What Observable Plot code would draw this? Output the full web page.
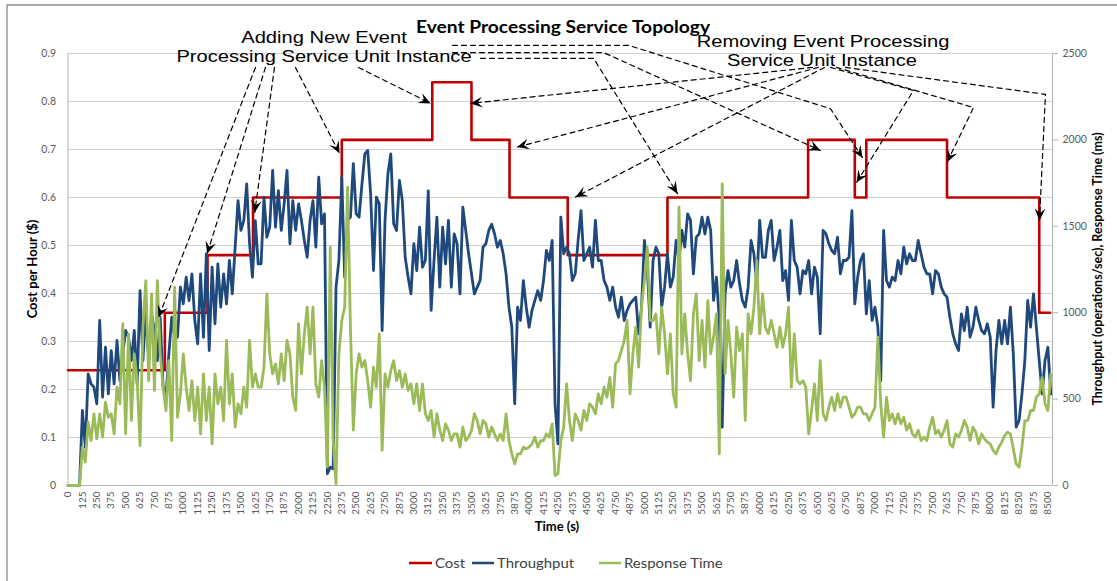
<!DOCTYPE html>
<html><head><meta charset="utf-8">
<script src="https://cdn.jsdelivr.net/npm/d3@7"></script>
<script src="https://cdn.jsdelivr.net/npm/@observablehq/plot@0.6"></script>
<style>
html,body{margin:0;padding:0;background:#fff;}
#wrap{position:relative;width:1117px;height:581px;overflow:hidden;background:#fff;}
#wrap svg{position:absolute;left:0;top:0;}
</style></head><body><div id="wrap"></div>
<script>
// ---------------- data ----------------
const timeStep = 25; // seconds between samples (sample i is at i*timeStep)
const throughput = [
0,0,0,0,0,434,222,646,588,569,473,955,511,800,530,781,588,839,607,762,
897,858,723,897,588,1128,723,1013,723,993,897,723,974,569,511,762,974,858,858,1148,
1051,1206,1070,1225,955,820,1225,858,1341,781,1264,936,1283,1032,1225,1051,1302,1109,1379,1649,
1476,1533,1746,1399,1206,1533,1283,1283,1669,1437,1495,1823,1495,1707,1476,1630,1823,1399,1649,1476,
1630,1534,1418,1321,1534,1649,1379,1784,1514,1572,68,106,96,1148,1302,1784,1206,1534,1553,1863,
1572,1553,1746,1919,1939,1688,1244,1669,1630,897,1534,1804,1919,1514,1476,1765,1649,1321,1206,1109,
1399,1244,1495,1263,1302,1705,1013,1302,1553,1148,1495,1283,1534,1148,1456,1399,1109,1611,1476,1341,
1225,1109,1148,1186,1379,1399,1476,1512,1457,1379,1418,1341,1225,1032,916,473,1032,955,1186,1032,
916,1013,1071,1128,1071,1186,1360,1302,1418,473,241,1553,1341,1379,1341,1186,1225,1418,1591,1302,
1341,1379,1264,1534,1302,1302,1186,1148,1071,1148,1032,974,1090,955,1013,1051,1071,1090,878,1032,
1418,1264,916,1302,1379,1341,1032,1148,1341,1148,1206,1418,1302,1476,1379,1572,1534,1225,1437,1456,
1553,1456,1553,1476,1071,1206,955,337,1109,1244,1148,1186,1302,1167,1071,1032,1148,1418,1341,1167,
1534,1321,1321,1476,1534,1302,1379,1476,1186,1244,1071,1534,1302,1264,1109,1244,1225,1302,1109,1264,
1206,878,1476,1456,1399,1360,1341,1437,1225,1302,1302,1321,1591,1051,1206,1302,1341,993,1186,955,
1032,916,607,1476,1186,1148,1206,1186,1302,1225,1379,1283,1341,1302,1302,1418,1341,1264,1225,1225,
1109,1244,1225,1148,1109,1090,974,878,820,781,993,897,1032,858,916,1032,955,897,878,936,
858,453,781,955,820,955,820,1032,762,338,376,530,723,1071,916,1109,916,723,530,723,
800,530];
const responseTime = [
0,0,0,0,0,222,135,367,260,415,270,415,280,482,395,415,299,569,473,936,
299,878,376,762,607,231,916,1186,607,1109,550,1186,762,569,434,723,260,1148,395,530,
762,569,434,607,376,569,299,646,376,569,241,646,473,569,376,839,473,646,338,473,
415,569,453,839,569,646,569,569,685,1109,762,646,704,588,762,607,839,762,511,434,
936,646,878,1032,762,1032,588,511,723,569,106,1379,260,10,762,955,1032,1726,916,320,
646,762,685,723,607,453,685,569,878,203,646,569,665,723,607,665,569,646,550,588,
473,588,434,588,415,376,434,280,415,320,260,357,320,260,299,299,222,338,260,280,
318,415,376,299,376,357,280,338,299,260,299,260,415,260,183,125,183,183,222,212,
222,241,280,222,260,260,299,280,357,58,68,260,338,588,376,260,415,376,320,434,
376,473,453,415,530,473,569,511,626,453,704,723,781,839,955,530,762,916,685,1032,
1186,1379,955,955,993,762,1032,878,646,878,530,453,1611,762,993,762,607,993,1109,723,
955,685,1070,762,859,993,183,1746,646,955,762,511,916,781,878,376,993,878,1032,1302,
878,1109,916,878,955,878,800,916,800,878,1032,569,878,607,588,607,569,299,434,588,
376,723,415,376,453,511,434,530,453,511,511,453,395,415,453,453,415,415,376,415,
453,858,473,280,511,376,415,357,415,357,395,320,357,299,280,320,260,280,260,338,
395,299,320,280,320,376,241,222,299,280,320,376,338,260,338,309,241,299,270,251,
241,203,183,222,251,289,309,299,212,125,106,222,376,376,434,434,511,530,626,473,
434,646];
const costTimes  = [0, 840, 1210, 1605, 2375, 3160, 3500, 3830, 4335, 5200, 6420, 6825, 6925, 7625, 8425, 8520];
const costValues = [0.24, 0.36, 0.48, 0.6, 0.72, 0.84, 0.72, 0.6, 0.48, 0.6, 0.72, 0.6, 0.72, 0.6, 0.36, 0.36];
const leftTicks  = [0, 0.1, 0.2, 0.3, 0.4, 0.5, 0.6, 0.7, 0.8, 0.9];
const rightTicks = [0, 500, 1000, 1500, 2000, 2500];
const xTicks = d3.range(0, 8501, 125);
const seriesNames = ["Cost", "Throughput", "Response Time"];
// annotation arrows: polylines in (time, cost) units, arrow at the last point
const addingArrows = [
  [[1626,0.871],[785,0.350]],
  [[1713,0.871],[1207,0.483]],
  [[1791,0.871],[1620,0.569]],
  [[1973,0.871],[2355,0.692]],
  [[2520,0.871],[3145,0.796]],
  [[3335,0.917],[4862,0.917],[6614,0.785],[6892,0.683]],
  [[3335,0.902],[4645,0.902],[6527,0.698]],
  [[3578,0.890],[4559,0.890],[5287,0.608]]
];
const removingArrows = [
  [[6458,0.871],[3491,0.796]],
  [[6510,0.871],[3896,0.705]],
  [[6562,0.871],[4402,0.601]],
  [[6614,0.871],[7334,0.823],[6840,0.631]],
  [[6666,0.871],[7855,0.7875],[7627,0.674]],
  [[6744,0.871],[8479,0.815],[8427,0.552]]
];

// ---------------- build ----------------
const colors = {Cost: "#c00000", Throughput: "#1f497d", "Response Time": "#9bbb59"};
const k = 0.9 / 2500; // right axis units -> left axis units
const W = 1117, H = 540;
const mL = 67.5, mR = 65, mT = 53, mB = 55;
const xDomain = [0, 8540], yDomain = [0, 0.9];

const costData = costTimes.map((t, i) => ({t, c: costValues[i]}));
const tpData = throughput.map((v, i) => ({t: i * timeStep, c: v * k}));
const rtData = responseTime.map((v, i) => ({t: i * timeStep, c: v * k}));

const arrows = [...addingArrows, ...removingArrows];
const arrowPts = arrows.flatMap((p, id) => p.map(([t, c]) => ({id, t, c})));
const xs = Plot.scale({x: {domain: xDomain, range: [mL, W - mR]}});
const ys = Plot.scale({y: {domain: yDomain, range: [H - mB, mT]}});
const heads = arrows.map(p => {
  const [t1, c1] = p[p.length - 2], [t2, c2] = p[p.length - 1];
  const dx = xs.apply(t2) - xs.apply(t1), dy = ys.apply(c2) - ys.apply(c1);
  return {t: t2, c: c2, angle: Math.atan2(dx, -dy) * 180 / Math.PI};
});
const stealth = {
  draw(ctx, size) {
    const R = Math.sqrt(size / Math.PI);
    ctx.moveTo(0, 0);
    ctx.lineTo(R * 0.45, R);
    ctx.lineTo(0, R * 0.6);
    ctx.lineTo(-R * 0.45, R);
    ctx.closePath();
  }
};

const chart = Plot.plot({
  width: W, height: H,
  marginLeft: mL, marginRight: mR, marginTop: mT, marginBottom: mB,
  x: {domain: xDomain, label: null},
  y: {domain: yDomain, label: null},
  style: {fontFamily: "Lato, sans-serif", background: "transparent", overflow: "visible"},
  marks: [
    Plot.ruleY(leftTicks.slice(1), {stroke: "#d0d0d0", strokeWidth: 1}),
    Plot.ruleY([0], {stroke: "#b4b4b4", strokeWidth: 1}),
    Plot.ruleX([xDomain[0]], {stroke: "#b4b4b4", strokeWidth: 1}),
    Plot.ruleX([xDomain[1]], {stroke: "#b4b4b4", strokeWidth: 1}),
    Plot.axisY({ticks: leftTicks, tickSize: 0, tickPadding: 12, fontSize: 10.5, color: "#595959",
      label: null, tickFormat: d => d === 0 ? "0" : d.toFixed(1)}),
    Plot.axisY({anchor: "right", ticks: rightTicks.map(v => v * k), tickSize: 5, tickPadding: 5,
      fontSize: 10.5, color: "#595959", stroke: "#b4b4b4", label: null,
      tickFormat: d => String(Math.round(d / k))}),
    Plot.axisX({ticks: xTicks, tickRotate: -90, tickSize: 0, tickPadding: 6, fontSize: 10,
      color: "#595959", label: null, tickFormat: d => String(d)}),
    Plot.line(costData, {x: "t", y: "c", curve: "step-after", stroke: colors.Cost, strokeWidth: 2.6}),
    Plot.line(tpData, {x: "t", y: "c", stroke: colors.Throughput, strokeWidth: 2.8, strokeLinejoin: "round"}),
    Plot.line(rtData, {x: "t", y: "c", stroke: colors["Response Time"], strokeWidth: 2.8, strokeLinejoin: "round"}),
    Plot.line(arrowPts, {x: "t", y: "c", z: "id", stroke: "#000", strokeWidth: 1.2, strokeDasharray: "5,4"}),
    Plot.dot(heads, {x: "t", y: "c", r: 12, symbol: stealth, rotate: "angle", fill: "#000", stroke: "none"})
  ]
});
const wrap = document.getElementById("wrap");
wrap.appendChild(chart);

// ---------------- overlay texts ----------------
const ov = d3.create("svg").attr("width", 1117).attr("height", 581)
  .style("font-family", "Lato, sans-serif");
ov.append("path").attr("d", "M7,581V5H1117").attr("fill", "none").attr("stroke", "#8a8a8a").attr("stroke-width", 1.3);
function txt(tr, s, o = {}) {
  return ov.append("text").attr("transform", tr)
    .attr("text-anchor", o.anchor || "middle")
    .attr("font-size", o.size || 12)
    .attr("font-weight", o.weight || "normal")
    .attr("font-family", o.family || null)
    .attr("fill", o.fill || "#000")
    .text(s);
}
txt("translate(563,33) scale(1.13,1)", "Event Processing Service Topology", {size: 17, weight: "bold"});
const ann = {size: 16.5, family: "'Liberation Sans', Arial, sans-serif"};
txt("translate(324,43) scale(1.22,1)", "Adding New Event", ann);
txt("translate(324,62) scale(1.22,1)", "Processing Service Unit Instance", ann);
txt("translate(823,47) scale(1.22,1)", "Removing Event Processing", ann);
txt("translate(822,66) scale(1.22,1)", "Service Unit Instance", ann);
txt("translate(37,269) rotate(-90)", "Cost per Hour ($)", {size: 13, weight: "bold"});
txt("translate(1101.5,269) rotate(-90)", "Throughput (operations/sec), Response Time (ms)", {size: 12.5, weight: "bold"});
txt("translate(557,531)", "Time (s)", {size: 13, weight: "bold"});
const legendPos = [[409, 432, 435], [472, 494, 497], [599, 621, 624]];
seriesNames.forEach((name, i) => {
  const [a, b, tx] = legendPos[i];
  ov.append("line").attr("x1", a).attr("x2", b).attr("y1", 563).attr("y2", 563)
    .attr("stroke", colors[name]).attr("stroke-width", 2.5);
  txt(`translate(${tx},567.5) scale(1.15,1)`, name, {size: 13, anchor: "start", fill: "#404040"});
});
wrap.appendChild(ov.node());
</script></body></html>
